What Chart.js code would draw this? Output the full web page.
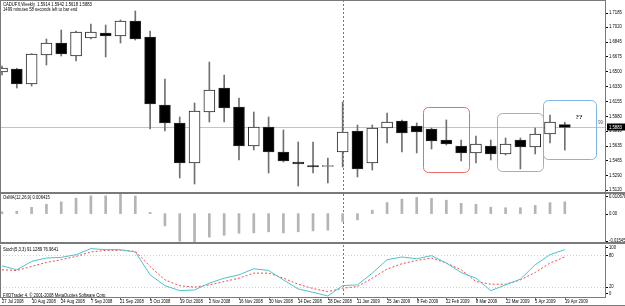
<!DOCTYPE html>
<html>
<head>
<meta charset="utf-8">
<script src="https://cdn.jsdelivr.net/npm/chart.js@4.4.1/dist/chart.umd.min.js"></script>
<style>
html, body { margin: 0; padding: 0; background: #fff; overflow: hidden; }
#wrap { position: relative; width: 625px; height: 306px; background: #fff; }
canvas { position: absolute; left: 0; }
</style>
</head>
<body>
<div id="wrap">
  <canvas id="cMain" width="625" height="194" style="top:0"></canvas>
  <canvas id="cOsma" width="625" height="51" style="top:194px"></canvas>
  <canvas id="cStoch" width="625" height="61" style="top:245px"></canvas>
</div>
<script>
// weekly bars, one label every second week
const dateLabels = ["27 Jul 2008", "10 Aug 2008", "24 Aug 2008", "7 Sep 2008", "21 Sep 2008", "5 Oct 2008",
    "19 Oct 2008", "2 Nov 2008", "16 Nov 2008", "30 Nov 2008", "14 Dec 2008", "28 Dec 2008", "11 Jan 2009",
    "25 Jan 2009", "8 Feb 2009", "22 Feb 2009", "8 Mar 2009", "22 Mar 2009", "5 Apr 2009", "19 Apr 2009"];

const opens  = [1.6529, 1.6564, 1.6389, 1.6727, 1.6867, 1.6715, 1.6926, 1.6984, 1.6949, 1.7124,
                1.6937, 1.6144, 1.5934, 1.5467, 1.6062, 1.6342, 1.6120, 1.5665, 1.5887, 1.5595,
                1.5479, 1.5438, 1.5426, 1.5595, 1.5840, 1.5467, 1.5875, 1.5957, 1.5899, 1.5864,
                1.5735, 1.5665, 1.5584, 1.5665, 1.5572, 1.5735, 1.5654, 1.5805, 1.5914];
const highs  = [1.6599, 1.6572, 1.6743, 1.6914, 1.7019, 1.7007, 1.7089, 1.7077, 1.7136, 1.7241,
                1.7007, 1.6447, 1.6004, 1.6167, 1.6645, 1.6494, 1.6225, 1.6062, 1.6004, 1.5852,
                1.5712, 1.5712, 1.5525, 1.6179, 1.5910, 1.5910, 1.6050, 1.5969, 1.5934, 1.5875,
                1.5969, 1.5735, 1.5782, 1.5735, 1.5759, 1.5759, 1.5875, 1.6027, 1.5942];
const lows   = [1.6494, 1.6342, 1.6365, 1.6610, 1.6715, 1.6657, 1.6914, 1.6704, 1.6867, 1.6902,
                1.5864, 1.5840, 1.5292, 1.5222, 1.5945, 1.5945, 1.5502, 1.5619, 1.5350, 1.5479,
                1.5198, 1.5350, 1.5233, 1.5420, 1.5304, 1.5385, 1.5700, 1.5595, 1.5584, 1.5630,
                1.5677, 1.5490, 1.5467, 1.5502, 1.5560, 1.5397, 1.5572, 1.5700, 1.5618];
const closes = [1.6575, 1.6389, 1.6739, 1.6867, 1.6739, 1.6996, 1.6996, 1.6949, 1.7124, 1.6914,
                1.6155, 1.5934, 1.5467, 1.6074, 1.6319, 1.6109, 1.5665, 1.5887, 1.5595, 1.5490,
                1.5455, 1.5420, 1.5432, 1.5829, 1.5397, 1.5875, 1.5945, 1.5817, 1.5829, 1.5724,
                1.5689, 1.5584, 1.5689, 1.5572, 1.5689, 1.5654, 1.5805, 1.5945, 1.5883];

const osma = [0.0010, 0.0013, 0.0034, 0.0051, 0.0064, 0.0084, 0.0097, 0.0097, 0.010678, 0.0096,
              0.0007, -0.0067, -0.0150, -0.015452, -0.0128, -0.0118, -0.0107, -0.0105, -0.0099, -0.0105,
              -0.0099, -0.0094, -0.0090, -0.0043, -0.0034, 0.0019, 0.0060, 0.0079, 0.0088, 0.0083,
              0.0073, 0.0056, 0.0051, 0.0035, 0.0032, 0.0032, 0.0045, 0.0060, 0.006415];

const stochMain   = [60.0, 52.3, 68.4, 75.0, 76.2, 81.4, 93.0, 91.1, 91.1, 86.6,
                     42.6, 21.9, 12.2, 13.6, 26.6, 36.2, 42.6, 54.3, 51.0, 32.9,
                     15.5, 9.0, 1.9, 21.9, 23.3, 45.9, 71.7, 76.9, 73.6, 79.5,
                     65.3, 47.1, 36.2, 12.2, 23.3, 34.3, 62.0, 81.4, 91.1289];
const stochSignal = [52.3, 51.0, 58.7, 66.5, 71.7, 78.1, 86.6, 89.7, 89.7, 87.8,
                     58.7, 32.9, 21.9, 18.8, 23.3, 29.7, 36.2, 45.9, 45.9, 36.2,
                     24.6, 16.3, 10.3, 16.9, 20.0, 36.2, 53.7, 64.0, 70.3, 75.0,
                     65.3, 52.3, 29.7, 24.6, 24.6, 32.9, 47.1, 65.3, 76.9641];

const priceTicks = [1.7185, 1.7020, 1.6845, 1.6675, 1.6500, 1.6330, 1.6155, 1.5980, 1.5810, 1.5635, 1.5465, 1.5290, 1.5120];
const stochLevels = [80, 20];
const stochTicks = ["100", "80", "20", "0"];

const FONT = '5.5px "Liberation Sans", Arial, sans-serif';
const SX = 0.76; // screenshot text is narrow
const FRAME = "#7a7a7a";
const SEP_BAR = 23; // year separator
const idx = opens.map((_, i) => i);
const xScale = { type: "linear", min: -0.135, max: 40.78, offset: false, display: false };
const base = {
    responsive: false, animation: false, devicePixelRatio: 1,
    plugins: { legend: { display: false }, tooltip: { enabled: false } },
};

function txt(ctx, s, x, y, color, align) {
    ctx.save();
    ctx.font = FONT;
    ctx.fillStyle = color || "#000";
    ctx.textAlign = align || "left";
    ctx.textBaseline = "middle";
    ctx.translate(x, y);
    ctx.scale(SX, 1);
    ctx.fillText(s, 0, 0);
    ctx.restore();
}

function frame(chart, sepTop) {
    const { ctx, chartArea: a } = chart;
    ctx.save();
    ctx.fillStyle = FRAME;
    ctx.fillRect(0, a.top, 1, a.bottom - a.top);
    ctx.fillRect(Math.round(a.right) - 1, a.top, 1, a.bottom - a.top);
    if (sepTop != null) ctx.fillRect(0, sepTop, 625, 2);
    ctx.restore();
}

function yearLine(chart) {
    const { ctx, chartArea: a, scales } = chart;
    const x = Math.round(scales.x.getPixelForValue(SEP_BAR)) + 0.5;
    ctx.save();
    ctx.strokeStyle = "#777";
    ctx.setLineDash([2, 2]);
    ctx.beginPath();
    ctx.moveTo(x, a.top);
    ctx.lineTo(x, a.bottom);
    ctx.stroke();
    ctx.restore();
}

// ---- main candles ----
const mainDecor = {
    id: "mainDecor",
    beforeDatasetsDraw(chart) {
        const { ctx, chartArea: a, scales: { y } } = chart;
        yearLine(chart);
        const by = Math.round(y.getPixelForValue(closes[closes.length - 1])) + 0.5;
        ctx.save();
        ctx.strokeStyle = "#c4c4c4";
        ctx.beginPath();
        ctx.moveTo(a.left, by);
        ctx.lineTo(a.right, by);
        ctx.stroke();
        ctx.restore();
    },
    afterDraw(chart) {
        const { ctx, chartArea: a, scales: { x, y } } = chart;
        const last = closes.length - 1;
        txt(ctx, "CADUFX,Weekly  " + [opens[last], highs[last], lows[last], closes[last]].map(v => v.toFixed(4)).join(" "), 3, 4.5);
        txt(ctx, "1499 minutes 58 seconds left to bar end", 3, 9);

        // boxes drawn on the chart (bar index / price)
        const boxes = [
            [28.4, 31.5, 1.6120, 1.5362, "#e86a6a"],
            [33.4, 36.5, 1.6050, 1.5373, "#7fb6e6"],
            [36.5, 40.1, 1.6202, 1.5514, "#7fb6e6"],
        ];
        ctx.save();
        boxes.forEach(([x0, x1, p0, p1, c]) => {
            const l = Math.round(x.getPixelForValue(x0)) + 0.5, r = Math.round(x.getPixelForValue(x1)) + 0.5;
            const t = Math.round(y.getPixelForValue(p0)) + 0.5, b = Math.round(y.getPixelForValue(p1)) + 0.5;
            ctx.strokeStyle = c;
            ctx.lineWidth = 1;
            ctx.beginPath();
            ctx.roundRect(l, t, r - l, b - t, 5);
            ctx.stroke();
        });
        ctx.restore();
        ctx.save();
        ctx.font = 'bold 7px "Liberation Serif", serif';
        ctx.fillStyle = "#111";
        ctx.textAlign = "center";
        ctx.textBaseline = "middle";
        ctx.fillText("??", x.getPixelForValue(38.96), y.getPixelForValue(1.6004));
        ctx.restore();
        txt(ctx, "99:", a.right - 2, y.getPixelForValue(1.5883) - 4.5, "#555", "right");

        // top border + frame
        ctx.save();
        ctx.fillStyle = FRAME;
        ctx.fillRect(0, 0, Math.round(a.right), 1);
        ctx.restore();
        frame(chart, 192);

        // price scale
        ctx.save();
        ctx.fillStyle = "#000";
        priceTicks.forEach(p => {
            const py = y.getPixelForValue(p) - 3;
            ctx.fillRect(a.right, Math.round(py), 2, 1);
            txt(ctx, p.toFixed(4), a.right + 3, py);
        });
        const cy = Math.round(y.getPixelForValue(closes[last]));
        ctx.fillStyle = "#000";
        ctx.fillRect(a.right + 1, cy - 3.5, 625 - a.right - 1, 7);
        txt(ctx, closes[last].toFixed(4), a.right + 3, cy, "#fff");
        ctx.restore();
    },
};

new Chart(document.getElementById("cMain"), {
    type: "bar",
    data: {
        datasets: [
            {
                data: idx.map(i => ({ x: i, y: [opens[i], closes[i]] })),
                backgroundColor: idx.map(i => closes[i] >= opens[i] ? "#ffffff" : "#000000"),
                borderColor: "#2a2a2a", borderWidth: 1, borderSkipped: false,
                barThickness: 11, grouped: false, order: 0, minBarLength: 1,
            },
            {
                data: idx.map(i => ({ x: i, y: [lows[i], highs[i]] })),
                backgroundColor: "#707070", barThickness: 1, grouped: false, order: 1,
            },
        ],
    },
    options: {
        ...base,
        layout: { padding: { left: 0, right: 19, top: 0, bottom: 2 } },
        scales: { x: xScale, y: { type: "linear", min: 1.51284, max: 1.7369, display: false } },
    },
    plugins: [mainDecor],
});

// ---- OsMA ----
const osmaDecor = {
    id: "osmaDecor",
    beforeDatasetsDraw(chart) { yearLine(chart); },
    afterDraw(chart) {
        const { ctx, chartArea: a, scales: { y } } = chart;
        txt(ctx, "OsMA(12,26,9) " + osma[osma.length - 1].toFixed(6), 3, 3);
        frame(chart, 48);
        const lv = [[Math.max(...osma).toFixed(6), a.top + 2], ["0.00", y.getPixelForValue(0)], [Math.min(...osma).toFixed(6), a.bottom - 1.5]];
        ctx.save();
        ctx.fillStyle = "#000";
        lv.forEach(([s, py]) => {
            ctx.fillRect(a.right, Math.round(py), 2, 1);
            txt(ctx, s, a.right + 3, py);
        });
        ctx.restore();
    },
};

new Chart(document.getElementById("cOsma"), {
    type: "bar",
    data: {
        datasets: [{
            data: idx.map(i => ({ x: i, y: osma[i] })),
            backgroundColor: "#b4b4b4", barThickness: 2, grouped: false,
        }],
    },
    options: {
        ...base,
        layout: { padding: { left: 0, right: 19, top: 0, bottom: 3 } },
        scales: { x: xScale, y: { type: "linear", min: Math.min(...osma), max: Math.max(...osma), display: false } },
    },
    plugins: [osmaDecor],
});

// ---- Stochastic ----
const stochDecor = {
    id: "stochDecor",
    beforeDatasetsDraw(chart) {
        const { ctx, chartArea: a, scales: { y } } = chart;
        yearLine(chart);
        ctx.save();
        ctx.strokeStyle = "#eec8a4";
        ctx.setLineDash([1, 2]);
        stochLevels.forEach(v => {
            const py = Math.round(y.getPixelForValue(v)) + 0.5;
            ctx.beginPath();
            ctx.moveTo(a.left, py);
            ctx.lineTo(a.right, py);
            ctx.stroke();
        });
        ctx.restore();
    },
    afterDraw(chart) {
        const { ctx, chartArea: a, scales: { x, y } } = chart;
        const last = stochMain.length - 1;
        txt(ctx, "Stoch(5,3,3) " + stochMain[last].toFixed(4) + " " + stochSignal[last].toFixed(4), 3, 4.5);
        txt(ctx, "FXDTrader 4, \u00a9 2001-2008 MetaQuotes Software Corp.", 3, 50);
        frame(chart, null);
        ctx.save();
        ctx.fillStyle = FRAME;
        ctx.fillRect(0, a.bottom, Math.round(a.right), 1);
        ctx.fillRect(0, 60, 625, 1);
        ctx.fillStyle = "#000";
        const lv = [[stochTicks[0], a.top + 2], [stochTicks[1], y.getPixelForValue(80)], [stochTicks[2], y.getPixelForValue(20)], [stochTicks[3], a.bottom - 4]];
        lv.forEach(([s, py]) => {
            ctx.fillRect(a.right, Math.round(py), 2, 1);
            txt(ctx, s, a.right + 3, py);
        });
        dateLabels.forEach((s, k) => {
            const px = Math.round(x.getPixelForValue(k * 2));
            ctx.fillStyle = FRAME;
            ctx.fillRect(px, a.bottom, 1, 3);
            txt(ctx, s, px, a.bottom + 4.5, "#000");
        });
        ctx.restore();
    },
};

new Chart(document.getElementById("cStoch"), {
    type: "line",
    data: {
        datasets: [
            {
                data: idx.map(i => ({ x: i, y: stochMain[i] })),
                borderColor: "#4cc4cc", borderWidth: 1, pointRadius: 0, tension: 0,
            },
            {
                data: idx.map(i => ({ x: i, y: stochSignal[i] })),
                borderColor: "#f04848", borderWidth: 1, borderDash: [2, 2], pointRadius: 0, tension: 0,
            },
        ],
    },
    options: {
        ...base,
        layout: { padding: { left: 0, right: 19, top: 0, bottom: 9 } },
        scales: { x: xScale, y: { type: "linear", min: 0, max: 100, display: false } },
    },
    plugins: [stochDecor],
});
</script>
</body>
</html>
